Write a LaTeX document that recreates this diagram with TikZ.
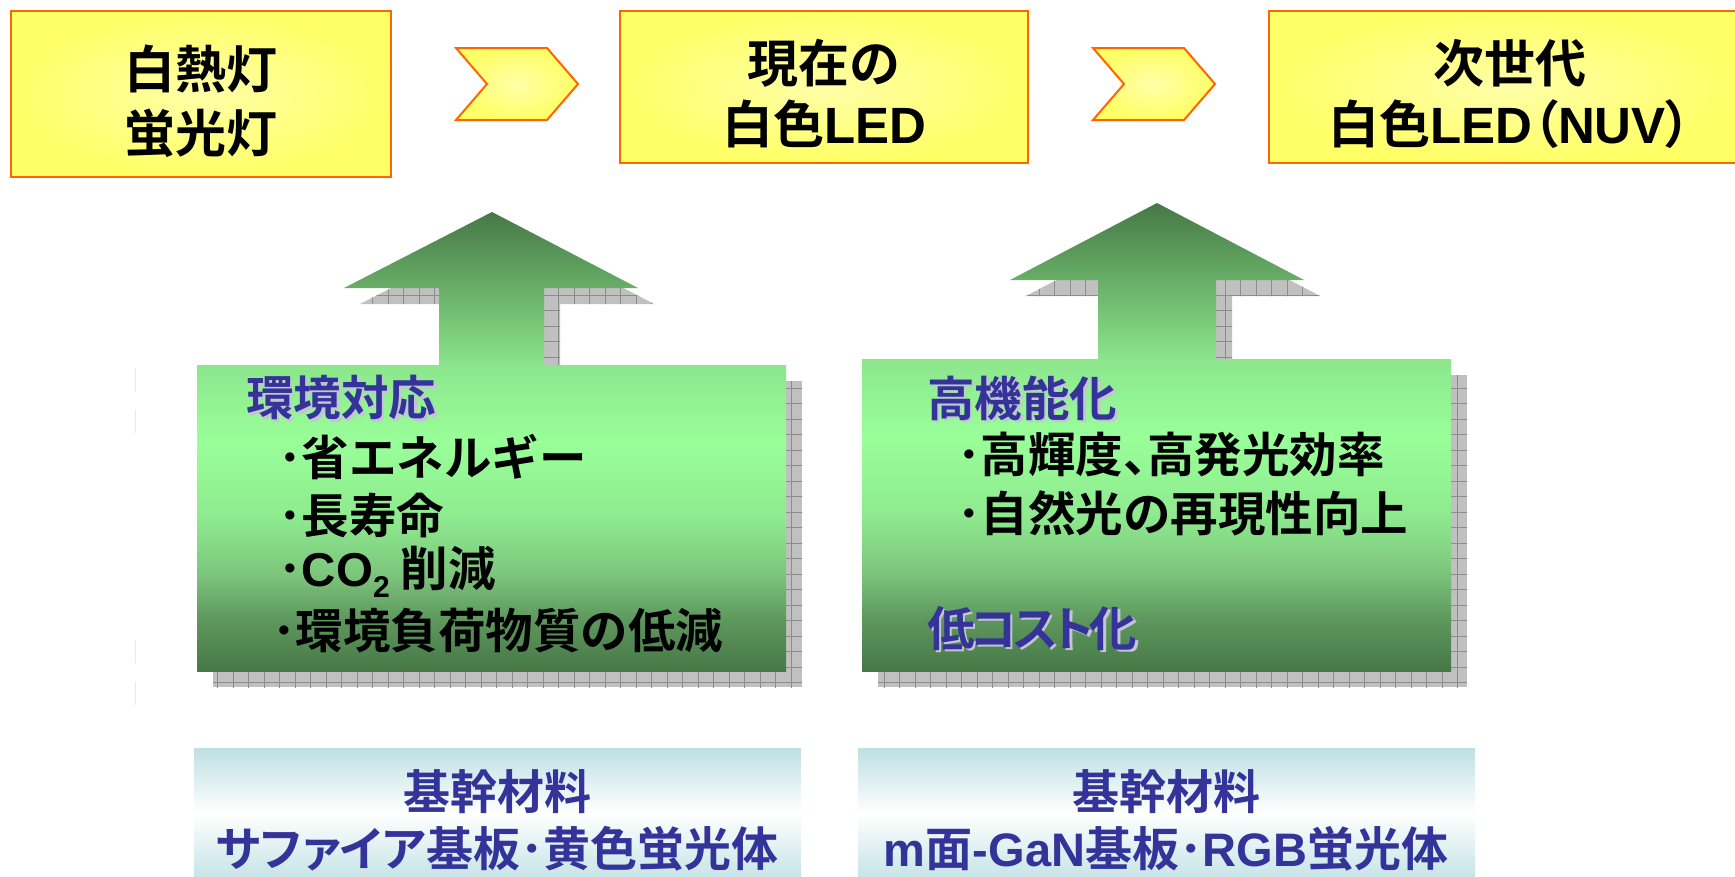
\documentclass[tikz,border=0pt]{standalone}
\usepackage{fontspec}
\newfontfamily\jp{Noto Sans CJK JP}[BoldFont={Noto Sans CJK JP Bold}]
\newfontfamily\jpp{Noto Sans CJK JP}[BoldFont={Noto Sans CJK JP Bold}, RawFeature=+palt]
\newfontfamily\lat{Liberation Sans}
\newcommand\ltx[1]{{\lat\bfseries #1}}
\newcommand\pal[1]{{\jpp\bfseries #1}}
\definecolor{ybord}{HTML}{FF6600}
\definecolor{yout}{HTML}{FFFF66}
\definecolor{yin}{HTML}{FFFFA8}
\definecolor{gtop}{HTML}{8CE68C}
\definecolor{gpeak}{HTML}{99FF99}
\definecolor{gmid}{HTML}{8EEA8E}
\definecolor{gthree}{HTML}{7DC67D}
\definecolor{gtwo}{HTML}{5E985E}
\definecolor{gdark}{HTML}{467846}
\definecolor{jblue}{HTML}{333399}
\definecolor{jshadow}{HTML}{C4C4D4}
\definecolor{shgray}{HTML}{C0C0C0}
\definecolor{shline}{HTML}{8C8C8C}
\definecolor{tealc}{HTML}{BEE0E3}
\definecolor{tealb}{HTML}{C6E4E7}
\pgfdeclareverticalshading{greenbox}{100bp}{color(0bp)=(gdark); color(25bp)=(gdark); color(33.5bp)=(gtwo); color(41bp)=(gthree); color(50bp)=(gmid); color(62.5bp)=(gpeak); color(75bp)=(gtop); color(100bp)=(gtop)}
\begin{document}
\begin{tikzpicture}[x=1pt,y=-1pt,
  ybox/.style={draw=ybord, line width=2.2pt, inner color=yin, outer color=yout, inner sep=0pt},
  chev/.style={draw=ybord, line width=2pt, line join=miter, inner color=yin, outer color=yout},
  gbox/.style={shading=greenbox, inner sep=0pt},
  garrow/.style={top color=gdark, bottom color=gtop},
  tbox/.style={top color=tealc, bottom color=tealb, middle color=white, inner sep=0pt},
  toptext/.style={font=\jp\bfseries\fontsize{51}{61}\selectfont, inner sep=0pt, text=black, align=center},
  gtext/.style={font=\jp\bfseries\fontsize{47.5}{50}\selectfont, inner sep=0pt, anchor=west, text=black},
  htext/.style={font=\jp\bfseries\fontsize{47.5}{50}\selectfont, inner sep=0pt, anchor=west, text=jblue},
  hshadow/.style={font=\jp\bfseries\fontsize{47.5}{50}\selectfont, inner sep=0pt, anchor=west, text=jshadow},
  btext/.style={font=\jp\bfseries\fontsize{47}{57}\selectfont, inner sep=0pt, text=jblue, align=center},
  gridl/.style={draw=shline, line width=0.8pt}
]
\useasboundingbox (0,0) rectangle (1735,876);
\fill[white] (0,0) rectangle (1735,876);

% faint yellow marks
\draw[yellow!60, line width=0.6pt] (135,368) -- (135,392) (135,410) -- (135,433) (135,640) -- (135,663) (135,682) -- (135,705);

% top boxes
\node[ybox, minimum width=380pt, minimum height=166pt] (b1) at (201,94) {};
\node[ybox, minimum width=408pt, minimum height=152pt] (b2) at (824,87) {};
\node[ybox, minimum width=471pt, minimum height=152pt] (b3) at (1504.5,87) {};

\node[toptext, font=\jp\bfseries\fontsize{51}{64}\selectfont] (t1) at (201,101) {白熱灯\\蛍光灯};
\node[toptext] (t2) at (824,93.5) {現在の\\白色\ltx{LED}};
\node[toptext] (t3) at (1510,93.5) {次世代\\白色\ltx{LED}\pal{（}\ltx{NUV}\pal{）}};

% chevrons
\draw[chev] (456,48) -- (547,48) -- (578,84) -- (547,120) -- (456,120) -- (487,84) -- cycle;
\draw[chev] (1093,48) -- (1184,48) -- (1215,84) -- (1184,120) -- (1093,120) -- (1124,84) -- cycle;

% shadows group 1
\begin{scope}[shift={(16,16)}]
  \begin{scope}
    \clip (492,212) -- (638,288) -- (544,288) -- (544,365) -- (439,365) -- (439,288) -- (344,288) -- cycle;
    \fill[shgray] (300,180) rectangle (700,400);
    \draw[gridl, step=15.5pt] (0,0) grid (1735,876);
  \end{scope}
  \begin{scope}
    \clip (197,365) rectangle (786,671);
    \fill[shgray] (197,365) rectangle (786,671);
    \draw[gridl, step=15.5pt] (0,0) grid (1735,876);
  \end{scope}
\end{scope}
% shadows group 2
\begin{scope}[shift={(16,16)}]
  \begin{scope}
    \clip (1157,203) -- (1304,280) -- (1216,280) -- (1216,359) -- (1098,359) -- (1098,280) -- (1010,280) -- cycle;
    \fill[shgray] (1000,180) rectangle (1400,400);
    \draw[gridl, step=15.5pt] (0,0) grid (1735,876);
  \end{scope}
  \begin{scope}
    \clip (862,359) rectangle (1451,671);
    \fill[shgray] (862,359) rectangle (1451,671);
    \draw[gridl, step=15.5pt] (0,0) grid (1735,876);
  \end{scope}
\end{scope}

% green arrows
\shade[garrow] (492,212) -- (638,288) -- (544,288) -- (544,367) -- (439,367) -- (439,288) -- (344,288) -- cycle;
\shade[garrow] (1157,203) -- (1304,280) -- (1216,280) -- (1216,361) -- (1098,361) -- (1098,280) -- (1010,280) -- cycle;

% green boxes
\node[gbox, minimum width=589pt, minimum height=306pt] (g1) at (491.5,518) {};
\node[gbox, minimum width=589pt, minimum height=312pt] (g2) at (1156.5,515) {};

% text group 1
\node[hshadow] (h1s) at (248.5,400.5) {環境対応};
\node[htext] (h1) at (246,398) {環境対応};
\node[gtext] (l1) at (278,457) {･省エネルギー};
\node[gtext] (l2) at (278,515) {･長寿命};
\node[gtext] (l3) at (278,572) {･\ltx{CO}\raisebox{-0.22em}{\fontsize{30}{30}\selectfont\ltx{2}} 削減};
\node[gtext] (l4) at (272,631) {･環境負荷物質の低減};

% text group 2
\node[hshadow] (h2s) at (929.5,400.5) {高機能化};
\node[htext] (h2) at (927,398) {高機能化};
\node[gtext] (m1) at (957,455) {･高輝度\pal{、}高発光効率};
\node[gtext] (m2) at (957,513) {･自然光の再現性向上};
\node[hshadow] (h3s) at (929.5,630.5) {\pal{低\kern-4ptコ\kern-4ptス\kern-4ptト\kern-4pt化}};
\node[htext] (h3) at (927,628) {\pal{低\kern-4ptコ\kern-4ptス\kern-4ptト\kern-4pt化}};

% bottom boxes
\node[tbox, minimum width=607pt, minimum height=130pt] (k1) at (497.5,813) {};
\node[tbox, minimum width=617pt, minimum height=130pt] (k2) at (1166.5,813) {};
\node[btext] (k1t) at (497,820.5) {基幹材料\\\pal{サファイア}基板･黄色蛍光体};
\node[btext] (k2t) at (1166,820.5) {基幹材料\\\ltx{m}面\ltx{-GaN}基板･\ltx{RGB}蛍光体};
\end{tikzpicture}
\end{document}
